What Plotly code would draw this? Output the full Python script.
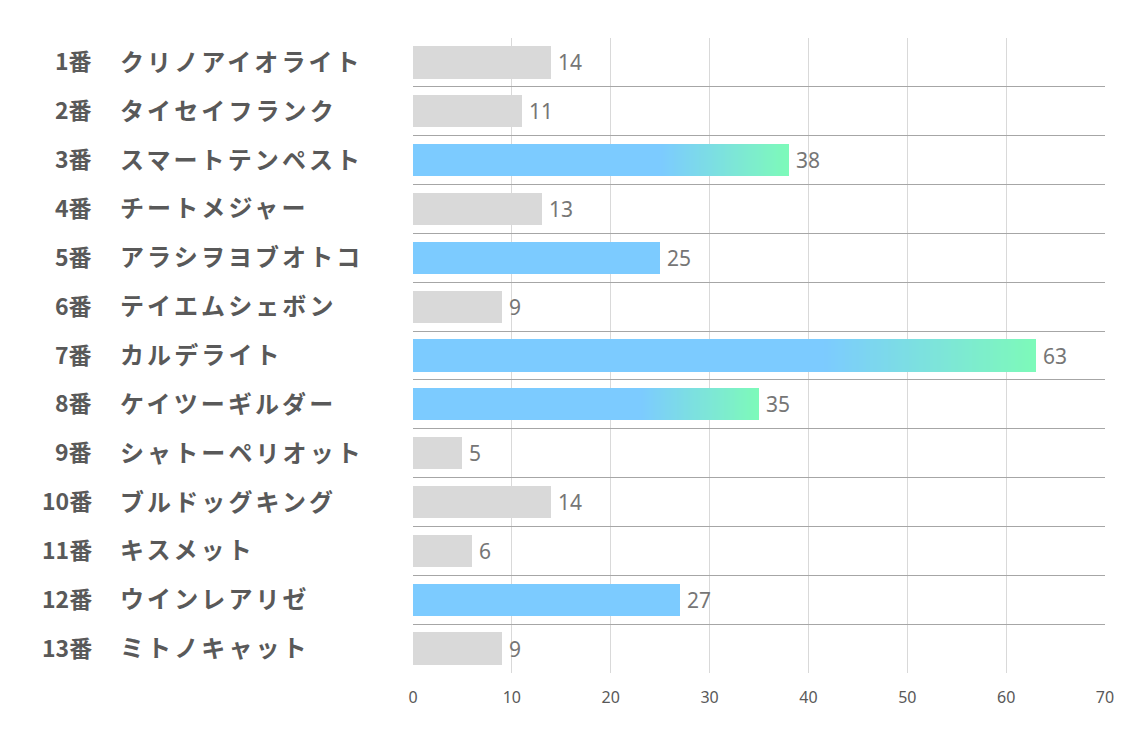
import plotly.graph_objects as go

numbers = ["1番", "2番", "3番", "4番", "5番", "6番", "7番", "8番", "9番", "10番", "11番", "12番", "13番"]
names = ["クリノアイオライト", "タイセイフランク", "スマートテンペスト", "チートメジャー", "アラシヲヨブオトコ",
         "テイエムシェボン", "カルデライト", "ケイツーギルダー", "シャトーペリオット", "ブルドッグキング",
         "キスメット", "ウインレアリゼ", "ミトノキャット"]
values = [14, 11, 38, 13, 25, 9, 63, 35, 5, 14, 6, 27, 9]
# style per row: 0 gray, 1 blue, 2 blue->green gradient
kinds = [0, 0, 2, 0, 1, 0, 2, 2, 0, 0, 0, 1, 0]
x_ticks = [0, 10, 20, 30, 40, 50, 60, 70]

GRAY = (217, 217, 217)
BLUE = (124, 203, 255)
GREEN = (125, 250, 185)
BAR_W = 0.66
GRAD_START = 0.66
N_SEG = 60

fig = go.Figure()
ys = list(range(len(values)))

def rgb(c):
    return "rgb(%d,%d,%d)" % c

# base bars
fig.add_trace(go.Bar(
    y=ys, x=values, orientation="h", width=BAR_W,
    marker=dict(color=[rgb(GRAY) if k == 0 else rgb(BLUE) for k in kinds], line=dict(width=0)),
    hoverinfo="skip", showlegend=False))

# gradient overlays (staircase, each from s_k to end)
gy = [i for i, k in enumerate(kinds) if k == 2]
gv = [values[i] for i in gy]
for s in range(N_SEG):
    t = s / N_SEG
    col = tuple(int(round(BLUE[j] + (GREEN[j] - BLUE[j]) * (t + 0.5 / N_SEG))) for j in range(3))
    bases = [v * (GRAD_START + (1 - GRAD_START) * t) for v in gv]
    widths = [v - b for v, b in zip(gv, bases)]
    fig.add_trace(go.Bar(
        y=gy, x=widths, base=bases, orientation="h", width=BAR_W,
        marker=dict(color=rgb(col), line=dict(width=0)),
        hoverinfo="skip", showlegend=False))

L, R = 413, 29
pw = 1134 - L - R

def px2paper(p):
    return (p - L) / pw

annotations = []
for i, v in enumerate(values):
    annotations.append(dict(x=v, y=i, xref="x", yref="y", text=str(v), showarrow=False,
                            xanchor="left", xshift=5, font=dict(size=21, color="#767676", family="Noto Sans")))
    annotations.append(dict(x=px2paper(94), y=i, xref="paper", yref="y", text="<b>" + numbers[i] + "</b>",
                            showarrow=False, xanchor="right", yshift=2,
                            font=dict(size=23, color="#595959", family="Noto Sans CJK JP")))
    annotations.append(dict(x=px2paper(118), y=i, xref="paper", yref="y",
                            text='<b><span style="letter-spacing:3.1px">' + names[i] + "</span></b>",
                            showarrow=False, xanchor="left", yshift=2,
                            font=dict(size=24, color="#595959", family="Noto Sans CJK JP")))

fig.update_layout(
    width=1134, height=737,
    margin=dict(l=L, r=R, t=38, b=64),
    plot_bgcolor="white", paper_bgcolor="white",
    barmode="overlay", bargap=0,
    annotations=annotations,
    xaxis=dict(range=[0, 70], tickvals=x_ticks, showgrid=True, gridcolor="#d9d9d9", gridwidth=1,
               zeroline=False, showline=False, ticks="", ticklen=0, ticklabelstandoff=13,
               tickfont=dict(size=16, color="#595959", family="Noto Sans"), fixedrange=True),
    yaxis=dict(range=[len(values) - 0.5, -0.5], tickvals=[i - 0.5 for i in range(len(values) + 1)],
               showticklabels=False, showgrid=True, gridcolor="#a6a6a6", gridwidth=1,
               zeroline=False, showline=False, fixedrange=True),
)

fig.write_html("out.html")
